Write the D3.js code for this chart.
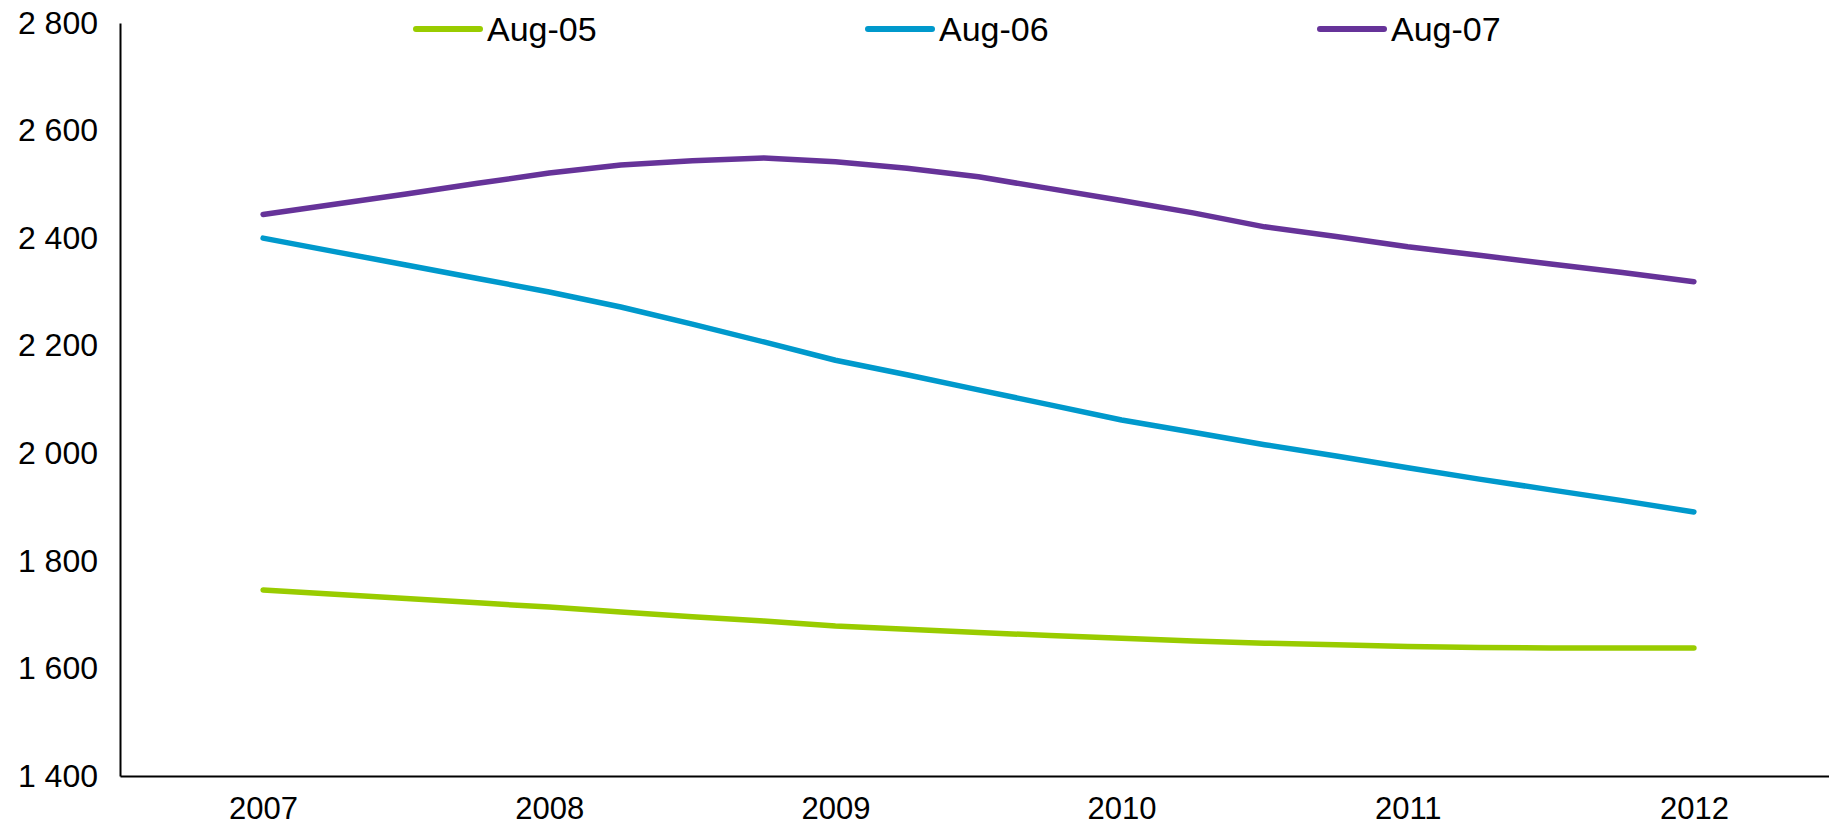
<!DOCTYPE html>
<html>
<head>
<meta charset="utf-8">
<script src="https://cdn.jsdelivr.net/npm/d3@7"></script>
<style>
  html, body { margin: 0; padding: 0; background: #fff; }
  svg { display: block; }
  text { font-family: "Liberation Sans", Arial, sans-serif; fill: #000; }
</style>
</head>
<body>
<svg id="chart" width="1829" height="832"></svg>
<script>
// ---- data (quarterly readings) ----
const periods = [2007, 2007.25, 2007.5, 2007.75, 2008, 2008.25, 2008.5, 2008.75,
                 2009, 2009.25, 2009.5, 2009.75, 2010, 2010.25, 2010.5, 2010.75,
                 2011, 2011.25, 2011.5, 2011.75, 2012];
const seriesNames = ["Aug-05", "Aug-06", "Aug-07"];
const aug05 = [1746, 1738, 1730, 1722, 1714, 1705, 1696, 1688, 1679, 1673, 1667, 1661,
               1656, 1651, 1647, 1644, 1641, 1639, 1638, 1638, 1638];
const aug06 = [2400, 2375, 2350, 2325, 2300, 2272, 2240, 2207, 2173, 2146, 2118, 2090,
               2062, 2039, 2016, 1995, 1973, 1952, 1932, 1912, 1891];
const aug07 = [2444, 2463, 2482, 2502, 2521, 2536, 2544, 2549, 2542, 2530, 2514, 2492,
               2470, 2447, 2421, 2403, 2384, 2368, 2352, 2336, 2319];
const xTickYears = [2007, 2008, 2009, 2010, 2011, 2012];
const yTicks = [1400, 1600, 1800, 2000, 2200, 2400, 2600, 2800];
const colors = ["#99CC00", "#0099CC", "#663399"];

// ---- layout ----
const svg = d3.select("#chart");
const mLeft = 120, mRight = 1837, mTop = 23, mBottom = 776;

const x = d3.scaleLinear().domain([2006.5, 2012.5]).range([mLeft, mRight]);
const y = d3.scaleLinear().domain([1400, 2800]).range([mBottom, mTop]);

const fmt = v => d3.format(",")(v).replace(/,/g, " ");

// y axis
const yAxis = svg.append("g").attr("transform", `translate(${mLeft},0)`)
  .call(d3.axisLeft(y).tickValues(yTicks).tickSize(0).tickPadding(22).tickFormat(fmt));
yAxis.select(".domain").attr("stroke", "#000").attr("stroke-width", 2);
yAxis.selectAll("text").attr("font-size", 32).attr("font-family", "Liberation Sans, Arial, sans-serif");

// x axis
const xAxis = svg.append("g").attr("transform", `translate(0,${mBottom})`)
  .call(d3.axisBottom(x).tickValues(xTickYears).tickSize(0).tickPadding(21).tickFormat(d3.format("d")));
xAxis.select(".domain").attr("stroke", "#000").attr("stroke-width", 2);
xAxis.selectAll("text").attr("font-size", 31).attr("font-family", "Liberation Sans, Arial, sans-serif");

// lines
const allSeries = [aug05, aug06, aug07];
const line = d3.line().x((d, i) => x(periods[i])).y(d => y(d));
allSeries.forEach((vals, k) => {
  svg.append("path")
    .datum(vals)
    .attr("d", line)
    .attr("fill", "none")
    .attr("stroke", colors[k])
    .attr("stroke-width", 5.5)
    .attr("stroke-linecap", "round")
    .attr("stroke-linejoin", "round");
});

// legend
const legendX = [416, 868, 1320];
seriesNames.forEach((name, k) => {
  const g = svg.append("g").attr("transform", `translate(${legendX[k]},29)`);
  g.append("line").attr("x1", 0).attr("x2", 64).attr("y1", 0).attr("y2", 0)
    .attr("stroke", colors[k]).attr("stroke-width", 6).attr("stroke-linecap", "round");
  g.append("text").attr("x", 71).attr("y", 12).attr("font-size", 34).text(name);
});
</script>
</body>
</html>
